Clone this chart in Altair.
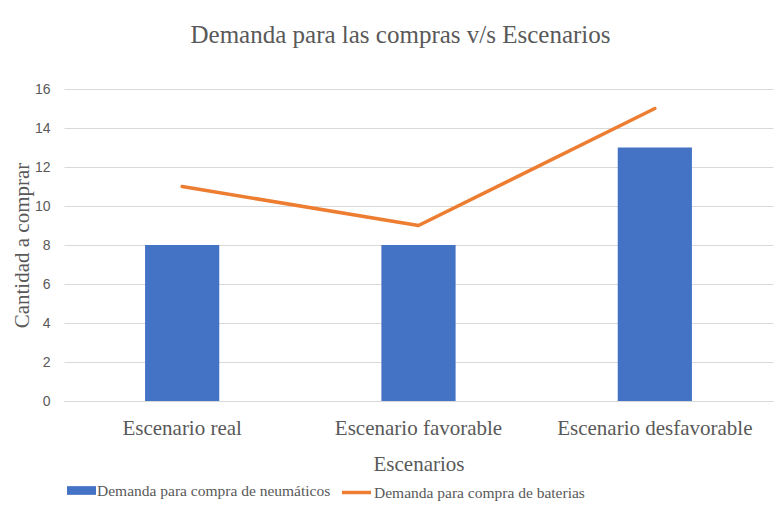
import altair as alt
import pandas as pd

escenarios = ["Escenario real", "Escenario favorable", "Escenario desfavorable"]
series = ["Demanda para compra de neumáticos", "Demanda para compra de baterias"]
neumaticos = [8, 8, 13]
baterias = [11, 9, 15]
y_ticks = [0, 2, 4, 6, 8, 10, 12, 14, 16]

rows = []
for e, v in zip(escenarios, neumaticos):
    rows.append({"escenario": e, "serie": series[0], "valor": v})
for e, v in zip(escenarios, baterias):
    rows.append({"escenario": e, "serie": series[1], "valor": v})
df = pd.DataFrame(rows)

SERIF = "Liberation Serif"
GRAY = "#595959"
BLUE = "#4472C4"
ORANGE = "#ED7D31"

x_enc = alt.X(
    "escenario:N",
    sort=escenarios,
    scale=alt.Scale(paddingInner=0.686, paddingOuter=0.343),
    axis=alt.Axis(
        title="Escenarios",
        labelAngle=0,
        labelFont=SERIF,
        labelFontSize=21,
        labelColor=GRAY,
        labelBaseline="alphabetic",
        labelPadding=33,
        labelLimit=400,
        ticks=False,
        tickSize=0,
        domainColor="#D9D9D9",
        domainWidth=1,
        titleFont=SERIF,
        titleFontSize=21,
        titleFontWeight="normal",
        titleColor=GRAY,
        titleBaseline="alphabetic",
        titleY=69,
    ),
)

y_enc = alt.Y(
    "valor:Q",
    scale=alt.Scale(domain=[0, 16], nice=False),
    axis=alt.Axis(
        title="Cantidad a comprar",
        values=y_ticks,
        tickCount=9,
        labelOverlap=False,
        domain=False,
        ticks=False,
        tickSize=0,
        gridColor="#D9D9D9",
        gridWidth=1,
        labelFont="Liberation Sans",
        labelFontSize=14,
        labelColor=GRAY,
        labelPadding=14,
        titleFont=SERIF,
        titleFontSize=21,
        titleFontWeight="normal",
        titleColor=GRAY,
        titleAngle=270,
        titleAlign="center",
        titleBaseline="middle",
        titleX=-42,
        titleY=156,
    ),
)

legend_common = dict(
    orient="none",
    direction="horizontal",
    title=None,
    padding=0,
    labelFont=SERIF,
    labelFontSize=15.5,
    labelColor=GRAY,
    labelOffset=1,
    labelLimit=400,
)

bars = (
    alt.Chart(df)
    .transform_filter(alt.datum.serie == series[0])
    .mark_bar()
    .encode(
        x=x_enc,
        y=y_enc,
        fill=alt.Fill(
            "serie:N",
            scale=alt.Scale(domain=[series[0]], range=[BLUE]),
            legend=alt.Legend(
                legendX=3,
                legendY=387,
                symbolType="M-1,-0.3H1V0.3H-1Z",
                symbolSize=841,
                symbolStrokeWidth=0,
                **legend_common,
            ),
        ),
    )
)

line = (
    alt.Chart(df)
    .transform_filter(alt.datum.serie == series[1])
    .mark_line(strokeWidth=3.5, strokeCap="round", strokeJoin="round")
    .encode(
        x=x_enc,
        y=y_enc,
        stroke=alt.Stroke(
            "serie:N",
            scale=alt.Scale(domain=[series[1]], range=[ORANGE]),
            legend=alt.Legend(
                legendX=276,
                legendY=387,
                symbolType="stroke",
                symbolSize=841,
                symbolStrokeWidth=3.5,
                **legend_common,
            ),
        ),
    )
)

chart = (
    alt.layer(bars, line)
    .resolve_scale(fill="independent", stroke="independent")
    .properties(
        width=709,
        height=312,
        autosize=alt.AutoSizeParams(type="none"),
        padding={"left": 64, "top": 89, "right": 7, "bottom": 109},
        background="white",
        title=alt.TitleParams(
            text="Demanda para las compras v/s Escenarios",
            font=SERIF,
            fontSize=25,
            fontWeight="normal",
            color=GRAY,
            anchor="middle",
            frame="group",
            baseline="alphabetic",
            offset=14,
            dx=-18,
        ),
    )
    .configure_view(stroke=None)
)

chart.save("out.html", embed_options={"renderer": "svg", "actions": False})
